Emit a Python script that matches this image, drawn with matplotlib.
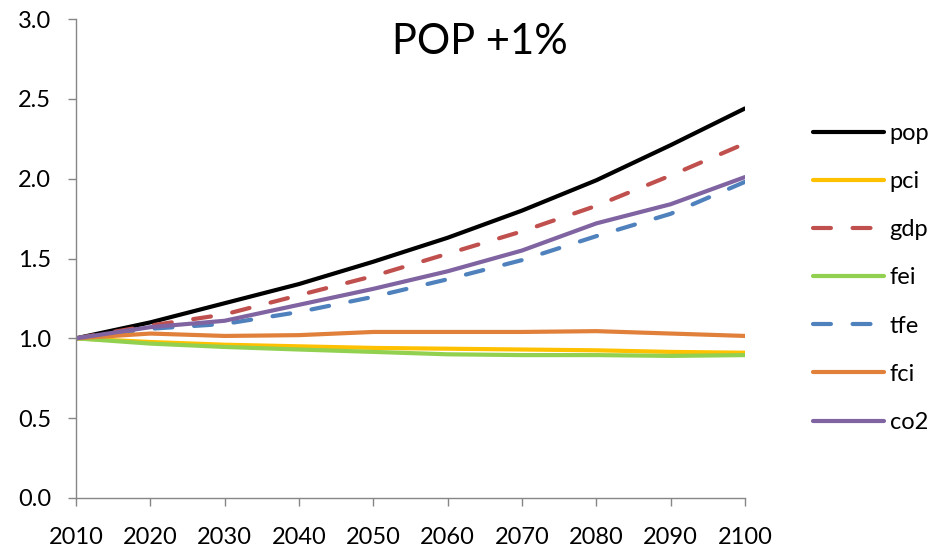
import matplotlib
matplotlib.use("Agg")
import matplotlib.pyplot as plt

years = [2010, 2020, 2030, 2040, 2050, 2060, 2070, 2080, 2090, 2100]
pop = [1.00, 1.10, 1.22, 1.34, 1.48, 1.63, 1.80, 1.99, 2.21, 2.44]
pci = [1.00, 0.977, 0.96, 0.95, 0.94, 0.935, 0.93, 0.925, 0.915, 0.91]
gdp = [1.00, 1.08, 1.15, 1.27, 1.39, 1.53, 1.67, 1.83, 2.02, 2.22]
fei = [1.00, 0.967, 0.946, 0.93, 0.915, 0.90, 0.895, 0.895, 0.89, 0.895]
tfe = [1.00, 1.06, 1.09, 1.165, 1.26, 1.37, 1.49, 1.64, 1.78, 1.98]
fci = [1.00, 1.03, 1.015, 1.02, 1.04, 1.04, 1.04, 1.045, 1.03, 1.015]
co2 = [1.00, 1.07, 1.11, 1.21, 1.31, 1.42, 1.55, 1.72, 1.84, 2.01]

series = [
    ("pop", pop, "#000000", False),
    ("pci", pci, "#FFC000", False),
    ("gdp", gdp, "#C0504D", True),
    ("fei", fei, "#92D050", False),
    ("tfe", tfe, "#4F81BD", True),
    ("fci", fci, "#E0803A", False),
    ("co2", co2, "#8064A2", False),
]

plt.rcParams["font.family"] = ["Lato", "DejaVu Sans"]

fig = plt.figure(figsize=(9.39, 5.48), dpi=100)
ax = fig.add_axes([76 / 939, 1 - 498 / 548, (745 - 76) / 939, (498 - 19) / 548])

for name, vals, color, dashed in series:
    line, = ax.plot(years, vals, color=color, lw=3.0, label=name,
                    solid_capstyle="round", dash_capstyle="round")
    if dashed:
        line.set_dashes((4.3, 5.2))

ax.set_xlim(2010, 2100)
ax.set_ylim(0, 3.0)
ax.set_xticks(years)
ax.set_yticks([0, 0.5, 1.0, 1.5, 2.0, 2.5, 3.0])
ax.set_yticklabels([f"{v:.1f}" for v in [0, 0.5, 1.0, 1.5, 2.0, 2.5, 3.0]])

for side in ("top", "right"):
    ax.spines[side].set_visible(False)
for side in ("left", "bottom"):
    ax.spines[side].set_color("#868686")
    ax.spines[side].set_linewidth(1.0)
ax.spines["bottom"].set_zorder(0)

ax.tick_params(axis="both", colors="#868686", labelcolor="black",
               labelsize=17, length=6, width=1.0, direction="out")
ax.tick_params(axis="x", pad=15)
ax.tick_params(axis="y", pad=12)

fig.text(480 / 939, 1 - 42 / 548, "POP +1%", ha="center", va="center",
         fontsize=30)

fig.legend(loc="upper left", bbox_to_anchor=(813 / 939, 1 - 123 / 548),
           frameon=False, fontsize=17, handlelength=3.0, handletextpad=0.25,
           labelspacing=1.15, borderpad=0, borderaxespad=0)

fig.savefig("out.png", dpi=100)
